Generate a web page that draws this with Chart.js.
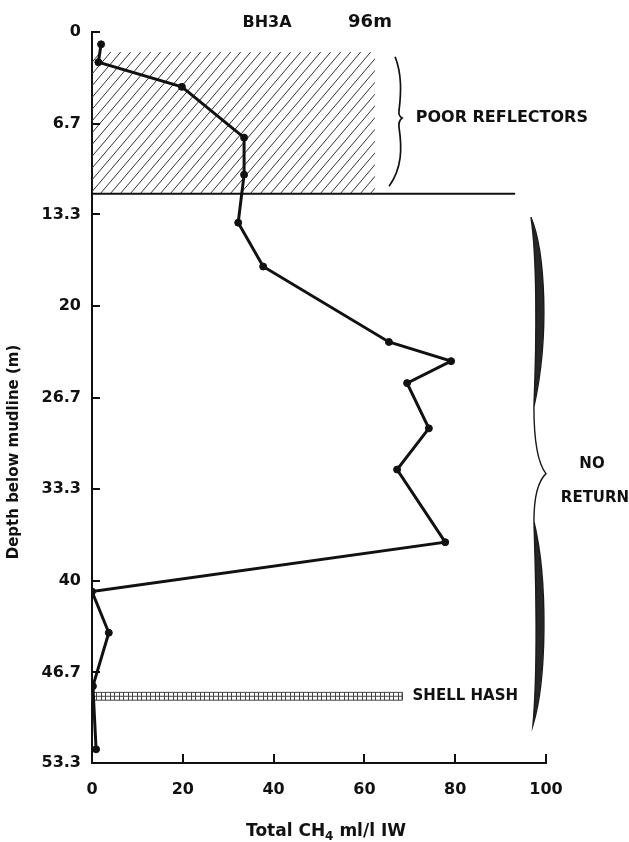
<!DOCTYPE html>
<html>
<head>
<meta charset="utf-8">
<script src="https://cdn.jsdelivr.net/npm/chart.js@4/dist/chart.umd.min.js"></script>
<style>
  html, body { margin: 0; padding: 0; background: #fff; }
  #wrap { width: 629px; height: 842px; }
</style>
</head>
<body>
<div id="wrap"><canvas id="c" width="629" height="842"></canvas></div>
<script>
// Borehole BH3A (96 m water depth): total methane in interstitial water vs depth
const methane = [2.0, 1.4, 19.8, 33.5, 33.5, 32.2, 37.7, 65.4, 79.1, 69.4, 74.2, 67.2, 77.8, 0.0, 3.7, 0.2, 0.9];
const depth   = [0.9, 2.2, 4.0, 7.7, 10.4, 13.9, 17.1, 22.6, 24.0, 25.6, 28.9, 31.9, 37.2, 40.8, 43.8, 47.7, 52.3];

const depthTicks = [0, 6.7, 13.3, 20, 26.7, 33.3, 40, 46.7, 53.3];
const depthTickLabels = ['0', '6.7', '13.3', '20', '26.7', '33.3', '40', '46.7', '53.3'];
const ch4Ticks = [0, 20, 40, 60, 80, 100];

// Seismic / lithology zones (depth in m, CH4 extent in ml/l)
const poorReflectorDepth = [1.46, 11.8];
const poorReflectorCH4 = [0, 62.3];
const reflectorBaseCH4 = [0, 93.2];
const shellHashDepth = [48.15, 48.72];
const shellHashCH4 = [0, 68.3];
const poorReflectorBrace = [1.8, 6.27, 11.25];
const noReturnBrace = [13.5, 32.2, 50.55];

const FONT = "'DejaVu Sans', sans-serif";
const INK = '#111';

const overlay = {
  id: 'overlay',
  beforeDatasetsDraw(chart) {
    const { ctx, scales: { x, y } } = chart;
    ctx.save();
    // hatched zone of poor reflectors
    const hx0 = x.getPixelForValue(poorReflectorCH4[0]);
    const hx1 = x.getPixelForValue(poorReflectorCH4[1]);
    const hy0 = y.getPixelForValue(poorReflectorDepth[0]);
    const hy1 = y.getPixelForValue(poorReflectorDepth[1]);
    ctx.save();
    ctx.beginPath();
    ctx.rect(hx0, hy0, hx1 - hx0, hy1 - hy0);
    ctx.clip();
    ctx.strokeStyle = '#333';
    ctx.lineWidth = 1;
    const h = hy1 - hy0;
    for (let s = hx0 - h; s < hx1 + 10; s += 10) {
      ctx.beginPath();
      ctx.moveTo(s, hy1);
      ctx.lineTo(s + h * 0.85, hy0);
      ctx.stroke();
    }
    ctx.restore();

    // base of the poor-reflector zone
    ctx.strokeStyle = INK;
    ctx.lineWidth = 2;
    ctx.beginPath();
    ctx.moveTo(x.getPixelForValue(reflectorBaseCH4[0]), hy1);
    ctx.lineTo(x.getPixelForValue(reflectorBaseCH4[1]), hy1);
    ctx.stroke();

    // shell hash band
    const sx0 = x.getPixelForValue(shellHashCH4[0]);
    const sx1 = x.getPixelForValue(shellHashCH4[1]);
    const sy0 = y.getPixelForValue(shellHashDepth[0]);
    const sy1 = y.getPixelForValue(shellHashDepth[1]);
    ctx.strokeStyle = '#444';
    ctx.lineWidth = 1;
    ctx.strokeRect(sx0, sy0, sx1 - sx0, sy1 - sy0);
    ctx.beginPath();
    ctx.moveTo(sx0, (sy0 + sy1) / 2);
    ctx.lineTo(sx1, (sy0 + sy1) / 2);
    for (let s = sx0 + 4; s < sx1; s += 4.5) {
      ctx.moveTo(Math.round(s) + 0.5, sy0);
      ctx.lineTo(Math.round(s) + 0.5, sy1);
    }
    ctx.stroke();
    ctx.restore();
  },
  afterDraw(chart) {
    const { ctx, chartArea: ca, scales: { x, y } } = chart;
    ctx.save();
    ctx.strokeStyle = INK;
    ctx.lineWidth = 2;
    // inward tick marks
    ctx.beginPath();
    depthTicks.forEach(v => {
      const py = Math.round(y.getPixelForValue(v));
      ctx.moveTo(ca.left, py);
      ctx.lineTo(ca.left + 8, py);
    });
    ch4Ticks.forEach(v => {
      const px = Math.round(x.getPixelForValue(v));
      ctx.moveTo(px, ca.bottom);
      ctx.lineTo(px, ca.bottom - 9);
    });
    ctx.stroke();

    // brace: poor reflectors
    {
      const xe = x.getPixelForValue(66.1);
      const xt = x.getPixelForValue(68.3);
      const yt = y.getPixelForValue(poorReflectorBrace[0]);
      const ym = y.getPixelForValue(poorReflectorBrace[1]);
      const yb = y.getPixelForValue(poorReflectorBrace[2]);
      ctx.lineWidth = 1.7;
      ctx.beginPath();
      ctx.moveTo(xe + 3, yt);
      ctx.bezierCurveTo(xe + 10, yt + 18, xe + 9, ym - 25, xe + 7, ym - 8);
      ctx.quadraticCurveTo(xe + 6, ym - 2, xt, ym);
      ctx.quadraticCurveTo(xe + 6, ym + 3, xe + 7, ym + 10);
      ctx.bezierCurveTo(xe + 10, ym + 30, xe + 10, yb - 18, xe - 3, yb);
      ctx.stroke();
    }

    // brace: no return (tapered, filled lobes)
    {
      const xe = x.getPixelForValue(96.9);
      const xt = x.getPixelForValue(100);
      const yt = y.getPixelForValue(noReturnBrace[0]);
      const ym = y.getPixelForValue(noReturnBrace[1]);
      const yb = y.getPixelForValue(noReturnBrace[2]);
      const L1 = ym - yt, L2 = yb - ym;
      ctx.fillStyle = '#262626';
      ctx.strokeStyle = '#1a1a1a';
      ctx.lineWidth = 1.4;
      // upper lobe
      const ax = xe - 1, ay = yt;
      const bx = xe + 2, by = yt + 0.74 * L1;
      ctx.beginPath();
      ctx.moveTo(ax, ay);
      ctx.bezierCurveTo(xe + 13, yt + 0.13 * L1, xe + 18, yt + 0.46 * L1, bx, by);
      ctx.bezierCurveTo(xe + 5, yt + 0.46 * L1, xe + 5, yt + 0.15 * L1, ax, ay);
      ctx.fill();
      ctx.stroke();
      // neck and tip
      ctx.beginPath();
      ctx.moveTo(bx, by);
      ctx.bezierCurveTo(xe + 2, ym - 0.13 * L1, xe + 6, ym - 0.04 * L1, xt, ym);
      ctx.bezierCurveTo(xe + 6, ym + 0.03 * L2, xe + 2, ym + 0.1 * L2, xe + 2, ym + 0.19 * L2);
      ctx.stroke();
      // lower lobe
      const cx = xe + 2, cy = ym + 0.19 * L2;
      const dx = xe + 1, dy = yb;
      ctx.beginPath();
      ctx.moveTo(cx, cy);
      ctx.bezierCurveTo(xe + 16, ym + 0.42 * L2, xe + 15, ym + 0.82 * L2, dx, dy);
      ctx.bezierCurveTo(xe + 6, ym + 0.78 * L2, xe + 4, ym + 0.42 * L2, cx, cy);
      ctx.fill();
      ctx.stroke();
    }

    // annotations
    ctx.fillStyle = INK;
    ctx.textBaseline = 'middle';
    ctx.textAlign = 'center';
    ctx.font = `bold 16px ${FONT}`;
    ctx.fillText('BH3A', 267, 23);
    ctx.font = `bold 18px ${FONT}`;
    ctx.fillText('96m', 370, 22);

    ctx.textAlign = 'left';
    ctx.font = `bold 16px ${FONT}`;
    ctx.fillText('POOR REFLECTORS', x.getPixelForValue(71.3), y.getPixelForValue(poorReflectorBrace[1]));
    ctx.font = `bold 15px ${FONT}`;
    ctx.fillText('SHELL HASH', x.getPixelForValue(70.6), y.getPixelForValue((shellHashDepth[0] + shellHashDepth[1]) / 2));
    ctx.textAlign = 'center';
    ctx.font = `bold 15px ${FONT}`;
    ctx.fillText('NO', 592, y.getPixelForValue(noReturnBrace[1]) - 10);
    ctx.fillText('RETURN', 595, y.getPixelForValue(noReturnBrace[1]) + 24);

    // axis titles
    ctx.textAlign = 'left';
    const t1 = 'Total CH', t2 = '4', t3 = ' ml/l IW';
    ctx.font = `bold 17px ${FONT}`;
    const w1 = ctx.measureText(t1).width;
    const w3 = ctx.measureText(t3).width;
    ctx.font = `bold 12px ${FONT}`;
    const w2 = ctx.measureText(t2).width;
    const tx = 326 - (w1 + w2 + w3) / 2;
    const ty = 832;
    ctx.font = `bold 17px ${FONT}`;
    ctx.fillText(t1, tx, ty);
    ctx.font = `bold 12px ${FONT}`;
    ctx.fillText(t2, tx + w1, ty + 5);
    ctx.font = `bold 17px ${FONT}`;
    ctx.fillText(t3, tx + w1 + w2, ty);

    ctx.save();
    ctx.translate(14, 452);
    ctx.rotate(-Math.PI / 2);
    ctx.textAlign = 'center';
    ctx.font = `bold 15px ${FONT}`;
    ctx.fillText('Depth below mudline (m)', 0, 0);
    ctx.restore();
    ctx.restore();
  }
};

new Chart(document.getElementById('c'), {
  type: 'scatter',
  data: {
    datasets: [{
      data: methane.map((v, i) => ({ x: v, y: depth[i] })),
      showLine: true,
      borderColor: INK,
      borderWidth: 3,
      pointRadius: 3.5,
      pointBackgroundColor: INK,
      pointBorderColor: INK,
      pointBorderWidth: 1,
      tension: 0
    }]
  },
  options: {
    responsive: false,
    animation: false,
    devicePixelRatio: 1,
    layout: { padding: { top: 32, right: 83, left: 0, bottom: 0 } },
    plugins: { legend: { display: false }, tooltip: { enabled: false } },
    scales: {
      x: {
        type: 'linear', min: 0, max: 100,
        afterBuildTicks: s => { s.ticks = ch4Ticks.map(v => ({ value: v })); },
        afterFit: s => { s.height = 79; },
        grid: { display: false, drawTicks: false },
        border: { display: true, color: INK, width: 2 },
        ticks: { padding: 17, color: INK, font: { family: FONT, weight: 'bold', size: 16 } }
      },
      y: {
        type: 'linear', reverse: true, min: 0, max: 53.3,
        afterBuildTicks: s => { s.ticks = depthTicks.map(v => ({ value: v })); },
        afterFit: s => { s.width = 92; },
        grid: { display: false, drawTicks: false },
        border: { display: true, color: INK, width: 2 },
        ticks: {
          padding: 11, color: INK, font: { family: FONT, weight: 'bold', size: 16 },
          callback: (v, i) => depthTickLabels[i]
        }
      }
    }
  },
  plugins: [overlay]
});
</script>
</body>
</html>
